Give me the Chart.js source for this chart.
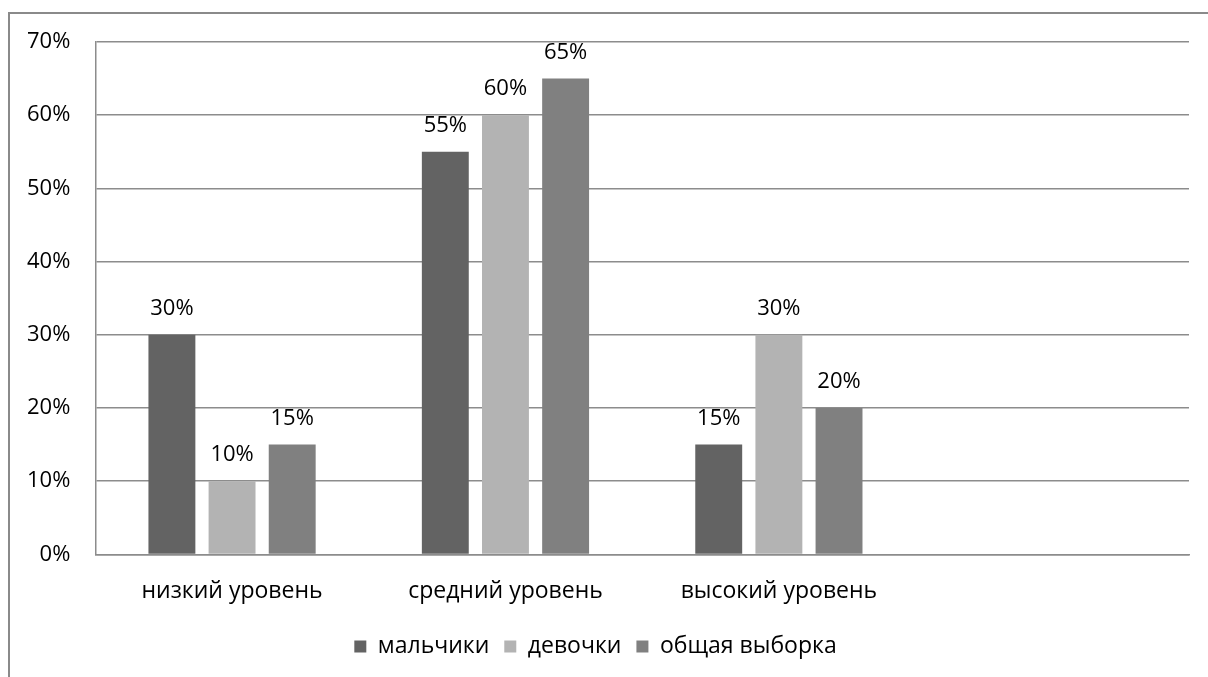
<!DOCTYPE html>
<html>
<head>
<meta charset="utf-8">
<script src="https://cdn.jsdelivr.net/npm/chart.js@4"></script>
<style>
  html, body { margin: 0; padding: 0; background: #fff; }
  #frame {
    position: absolute; left: 8px; top: 12px; width: 1210px; height: 680px;
    border-left: 2px solid #8a8a8a; border-top: 2px solid #8a8a8a;
  }
  #wrap { position: absolute; left: 0; top: 0; width: 1208px; height: 677px; }
</style>
</head>
<body>
<div id="frame"></div>
<div id="wrap"><canvas id="chart"></canvas></div>
<script>
const categories = ["низкий уровень", "средний уровень", "высокий уровень", ""];
const boys = [30, 55, 15, null];
const girls = [10, 60, 30, null];
const total = [15, 65, 20, null];
const seriesNames = ["мальчики", "девочки", "общая выборка"];
const yTicks = [0, 10, 20, 30, 40, 50, 60, 70];

const FONT = "'Open Sans', 'Noto Sans', sans-serif";
const SIZE = 22;

// labels above each bar
const barLabels = {
  id: "barLabels",
  afterDatasetsDraw(chart) {
    const ctx = chart.ctx;
    ctx.save();
    ctx.font = SIZE + "px " + FONT;
    ctx.fillStyle = "#000";
    ctx.textAlign = "center";
    ctx.textBaseline = "middle";
    chart.data.datasets.forEach((ds, i) => {
      chart.getDatasetMeta(i).data.forEach((bar, j) => {
        if (ds.data[j] == null) return;
        ctx.fillText(ds.data[j] + "%", bar.x, bar.y - 26);
      });
    });
    ctx.restore();
  }
};

new Chart(document.getElementById("chart"), {
  type: "bar",
  data: {
    labels: categories,
    datasets: [
      { label: seriesNames[0], data: boys, backgroundColor: "#636363" },
      { label: seriesNames[1], data: girls, backgroundColor: "#b3b3b3" },
      { label: seriesNames[2], data: total, backgroundColor: "#808080" }
    ]
  },
  options: {
    responsive: true,
    maintainAspectRatio: false,
    animation: false,
    datasets: { bar: { barPercentage: 0.78, categoryPercentage: 0.66 } },
    layout: { padding: { left: 2, right: 19, top: 42, bottom: 9 } },
    scales: {
      x: {
        grid: { display: false },
        border: { color: "#8c8c8c", width: 1.5 },
        ticks: { color: "#000", font: { family: FONT, size: 23 }, padding: 15 }
      },
      y: {
        min: 0, max: 70,
        afterBuildTicks: axis => { axis.ticks = yTicks.map(v => ({ value: v })); },
        grid: { color: "#8c8c8c", lineWidth: 1.5, drawTicks: false },
        border: { display: true, color: "#8c8c8c", width: 1.5 },
        ticks: { color: "#000", font: { family: FONT, size: SIZE }, padding: 25, callback: v => v + "%" }
      }
    },
    plugins: {
      legend: {
        position: "bottom",
        labels: { boxWidth: 12, boxHeight: 12, color: "#000", font: { family: FONT, size: 23 }, padding: 15 }
      },
      tooltip: { enabled: false }
    }
  },
  plugins: [barLabels]
});
</script>
</body>
</html>
